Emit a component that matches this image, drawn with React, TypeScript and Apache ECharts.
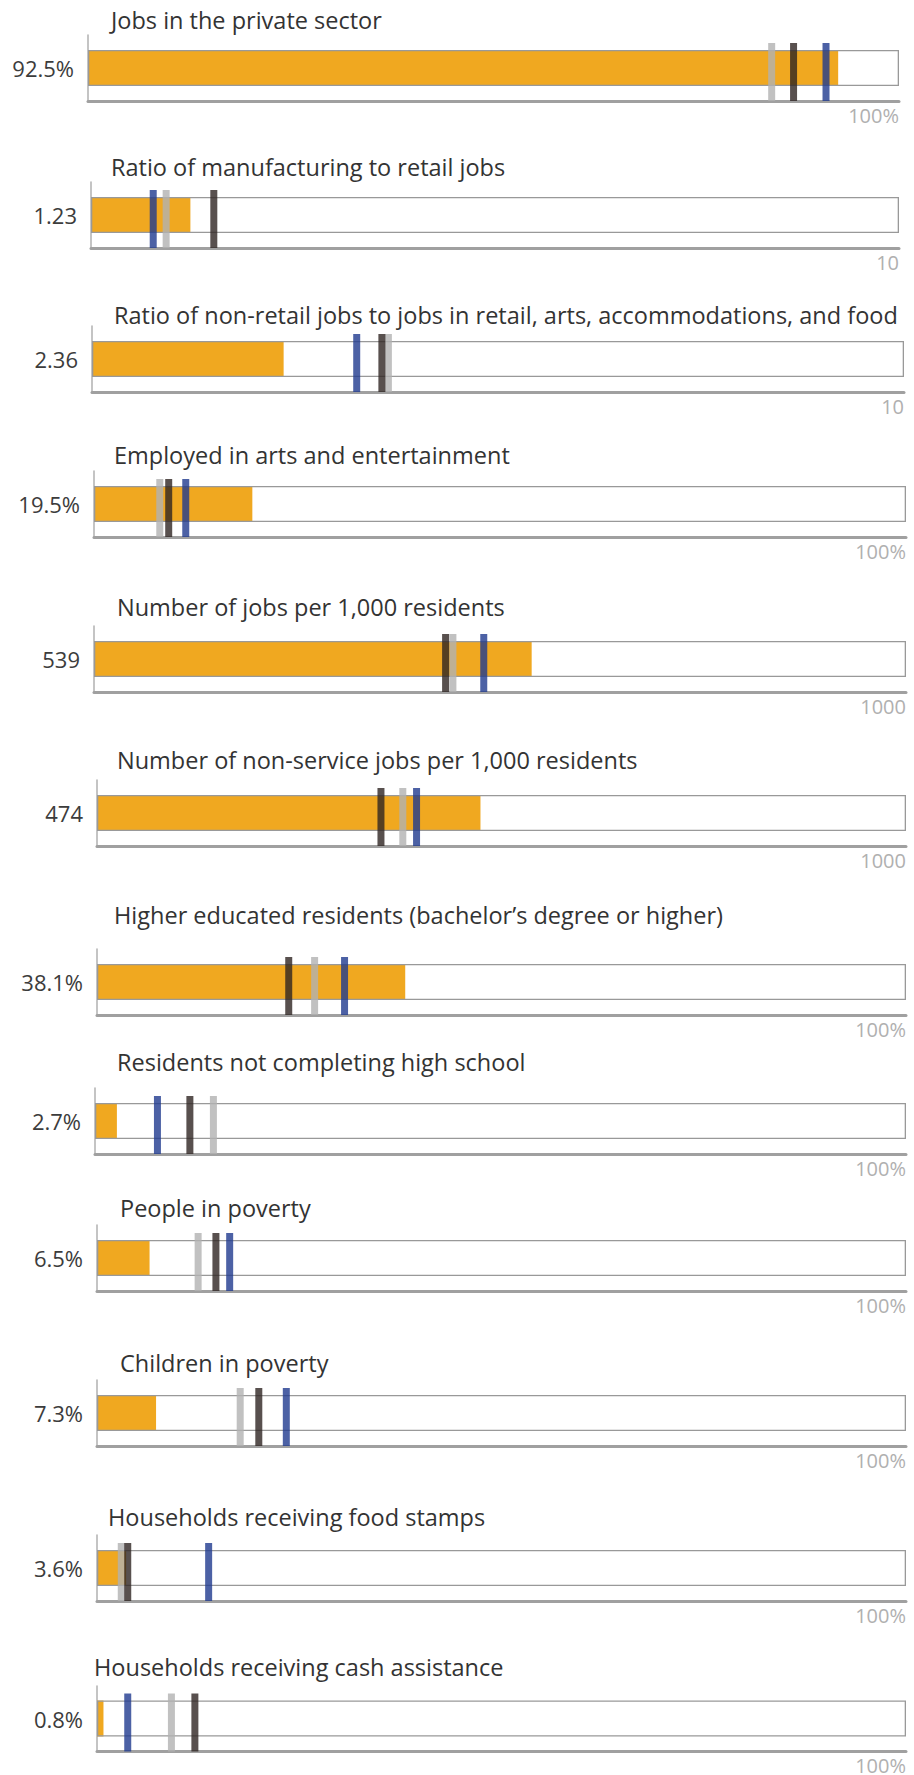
import React, { useEffect, useRef } from "react";
import * as echarts from "echarts";

// ---- data ----
const titles = [
  "Jobs in the private sector",
  "Ratio of manufacturing to retail jobs",
  "Ratio of non-retail jobs to jobs in retail, arts, accommodations, and food",
  "Employed in arts and entertainment",
  "Number of jobs per 1,000 residents",
  "Number of non-service jobs per 1,000 residents",
  "Higher educated residents (bachelor\u2019s degree or higher)",
  "Residents not completing high school",
  "People in poverty",
  "Children in poverty",
  "Households receiving food stamps",
  "Households receiving cash assistance",
];
const valueLabels = ["92.5%", "1.23", "2.36", "19.5%", "539", "474", "38.1%", "2.7%", "6.5%", "7.3%", "3.6%", "0.8%"];
const values = [92.5, 1.23, 2.36, 19.5, 539, 474, 38.1, 2.7, 6.5, 7.3, 3.6, 0.8];
const maxValues = [100, 10, 10, 100, 1000, 1000, 100, 100, 100, 100, 100, 100];
const maxLabels = ["100%", "10", "10", "100%", "1000", "1000", "100%", "100%", "100%", "100%", "100%", "100%"];
const grayMarkers = [84.3, 0.93, 3.65, 8.1, 442, 378, 26.9, 14.6, 12.5, 17.7, 3.0, 9.2];
const darkMarkers = [87.0, 1.52, 3.57, 9.2, 433, 351, 23.7, 11.7, 14.7, 20.0, 3.8, 12.1];
const blueMarkers = [91.0, 0.77, 3.26, 11.3, 480, 395, 30.6, 7.7, 16.4, 23.4, 13.8, 3.8];

// ---- layout ----
const axisY = [101, 248, 392, 537, 692, 846, 1015, 1154, 1291, 1446, 1601, 1752];
const axisX = [88, 91, 92, 94, 94, 97, 97, 95, 97, 97, 97, 97];
const boxRight = [899, 899, 904, 906, 906, 906, 906, 906, 906, 906, 906, 906];
const titleX = [111, 111, 114, 114, 117, 117, 114, 117, 120, 120, 108, 94];
const titleY = [20, 167, 315, 455, 607, 760, 915, 1062, 1208, 1363, 1517, 1667];

const FONT = "'Open Sans', Lato, sans-serif";
const GRID_H = 66;
const BAR_W = 36;

export default function App() {
  const ref = useRef<HTMLDivElement>(null);
  useEffect(() => {
    document.body.style.margin = "0";
    const chart = echarts.init(ref.current!, null, { renderer: "svg" });
    const idx = titles.map((_, i) => i);
    const series: any[] = [];
    idx.forEach((i) => {
      series.push({
        type: "bar",
        xAxisIndex: i,
        yAxisIndex: i,
        data: [values[i]],
        barWidth: BAR_W,
        barGap: "-100%",
        itemStyle: { color: "#F0A820" },
        z: 2,
        silent: true,
      });
      series.push({
        type: "bar",
        xAxisIndex: i,
        yAxisIndex: i,
        data: [maxValues[i]],
        barWidth: BAR_W,
        barGap: "-100%",
        itemStyle: { color: "rgba(0,0,0,0)", borderColor: "#999999", borderWidth: 1.3 },
        z: 3,
        silent: true,
      });
      series.push({
        type: "scatter",
        xAxisIndex: i,
        yAxisIndex: i,
        symbol: "rect",
        symbolSize: [7, 58],
        symbolOffset: [0, 4],
        z: 4,
        silent: true,
        data: [
          { value: [grayMarkers[i], 0], itemStyle: { color: "#B1B1B1" } },
          { value: [darkMarkers[i], 0], itemStyle: { color: "#2E2422" } },
          { value: [blueMarkers[i], 0], itemStyle: { color: "#1F3A8F" } },
        ],
      });
    });
    const option: any = {
      animation: false,
      backgroundColor: "#ffffff",
      grid: idx.map((i) => ({
        left: axisX[i],
        top: axisY[i] - GRID_H,
        width: boxRight[i] - axisX[i],
        height: GRID_H,
      })),
      xAxis: idx.map((i) => ({
        gridIndex: i,
        type: "value",
        min: 0,
        max: maxValues[i],
        interval: maxValues[i],
        splitLine: { show: false },
        axisTick: { show: false },
        axisLine: { show: true, lineStyle: { color: "#a0a0a0", width: 3 } },
        axisLabel: {
          formatter: (v: number) => (v === maxValues[i] ? maxLabels[i] : ""),
          showMinLabel: false,
          showMaxLabel: true,
          color: "#b0b0b0",
          fontSize: 20,
          fontFamily: FONT,
          margin: 4,
          align: "right",
        },
      })),
      yAxis: idx.map((i) => ({
        gridIndex: i,
        type: "category",
        data: [valueLabels[i]],
        axisLine: { show: true, lineStyle: { color: "#b0b0b0", width: 1.5 } },
        axisTick: { show: false },
        axisLabel: { color: "#3c3c3c", fontSize: 22, margin: 14, fontFamily: FONT },
      })),
      graphic: idx.map((i) => ({
        type: "text",
        x: titleX[i],
        y: titleY[i],
        silent: true,
        style: {
          text: titles[i],
          fill: "#333333",
          font: `23.5px ${FONT}`,
          verticalAlign: "middle",
        },
      })),
      series,
    };
    chart.setOption(option);
    return () => chart.dispose();
  }, []);
  return <div ref={ref} style={{ width: 914, height: 1775 }} />;
}
